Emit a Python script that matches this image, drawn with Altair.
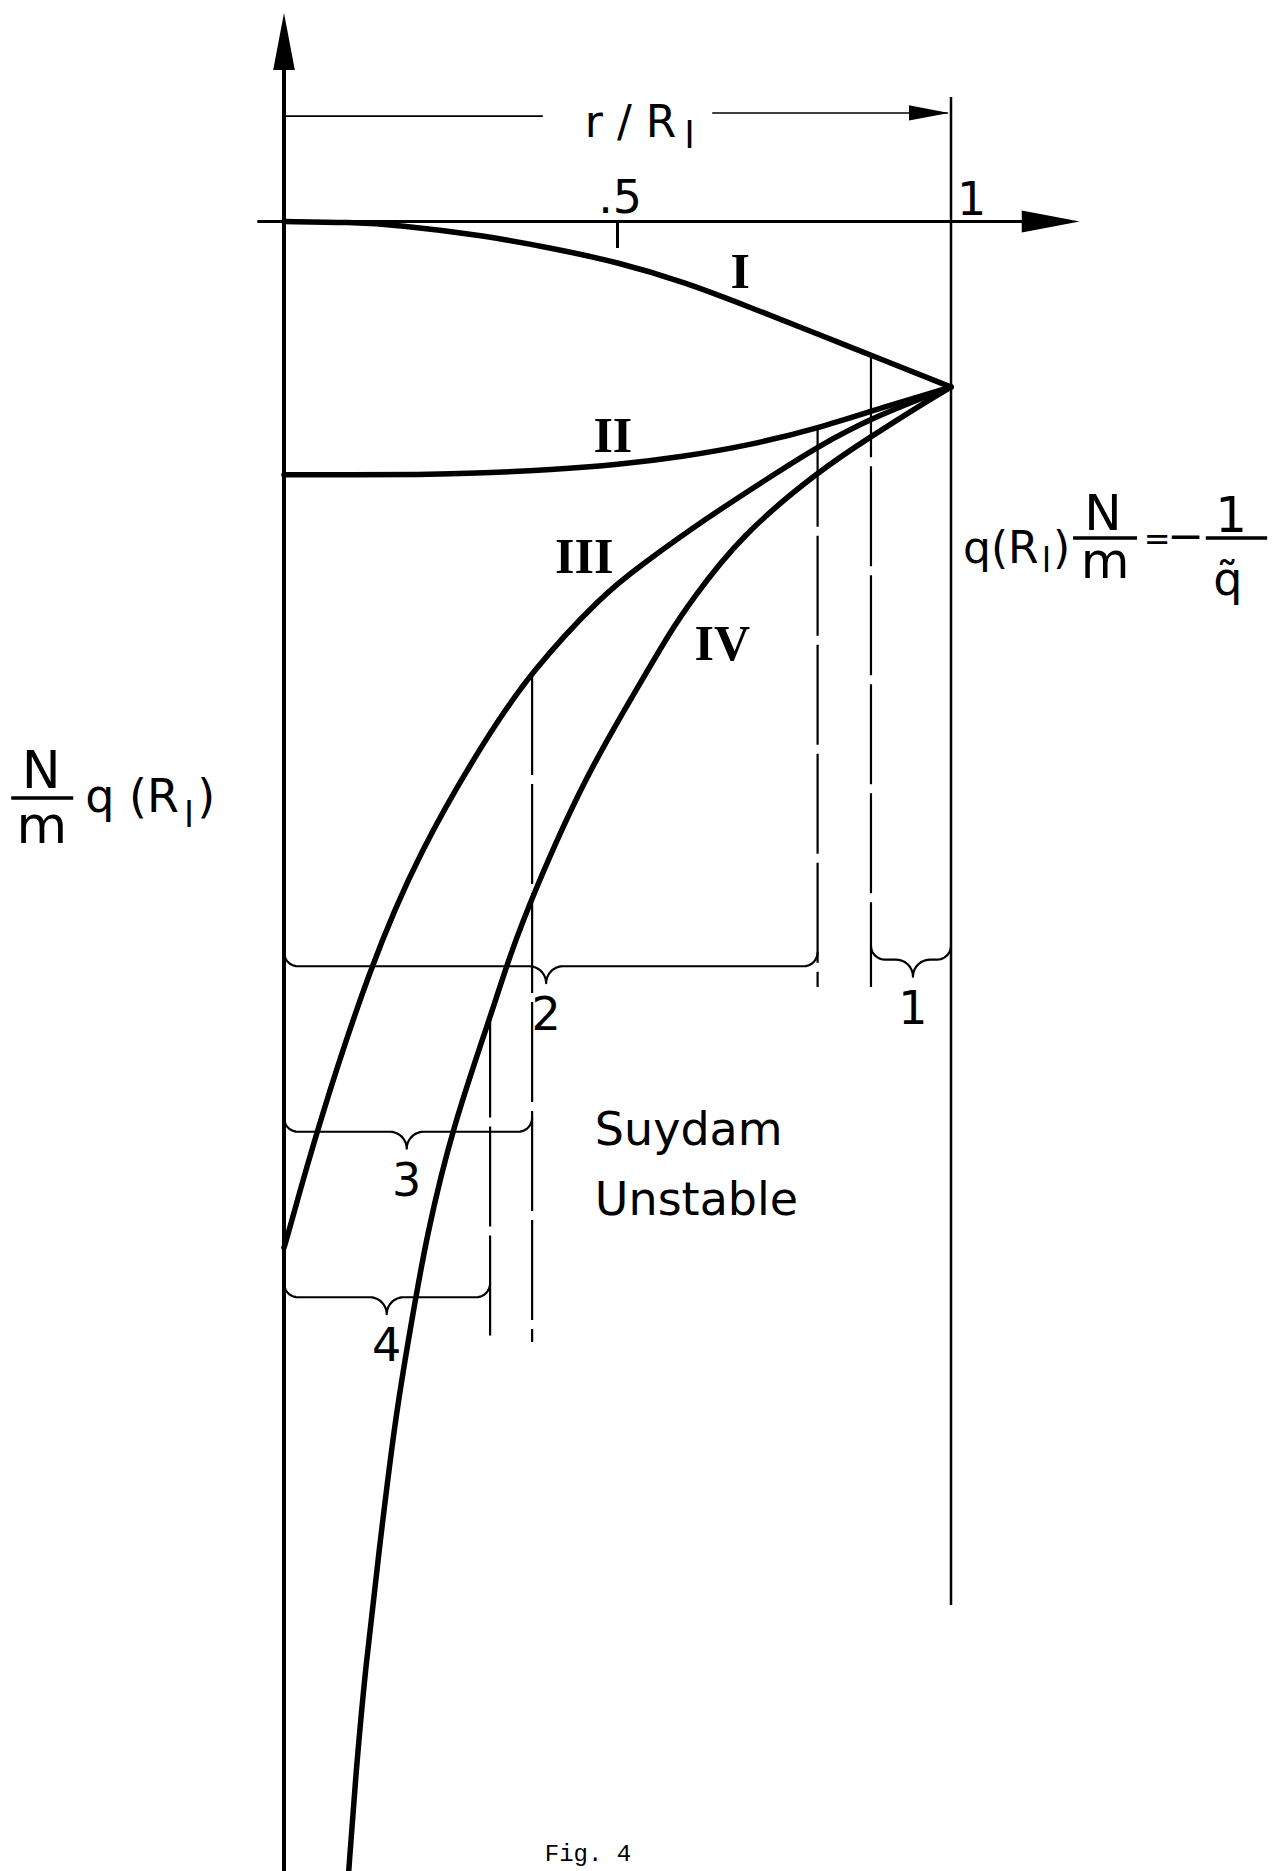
import numpy as np
import pandas as pd
import altair as alt

# ---------------------------------------------------------------
# Page geometry: the view fills the whole page, data units are
# placed through linear scales whose origin sits inside the view.
# ---------------------------------------------------------------
W, H = 1279, 1871
X0_PX, X_UNIT = 284.0, 667.0      # pixel of r/R_l = 0, pixels per unit
Y0_PX, Y_UNIT = 221.5, 165.5      # pixel of (N/m) q(R_l) = 0, pixels per unit
X_DOMAIN = [-X0_PX / X_UNIT, (W - X0_PX) / X_UNIT]
Y_DOMAIN = [-Y0_PX / Y_UNIT, (H - Y0_PX) / Y_UNIT]

xs = alt.Scale(domain=X_DOMAIN, nice=False, zero=False)
ys = alt.Scale(domain=Y_DOMAIN, nice=False, zero=False, reverse=True)

# ---------------------------------------------------------------
# Curves I - IV :  (N/m) q(R_l)  versus  r/R_l
# ---------------------------------------------------------------
r_I = [0.0, 0.10, 0.17, 0.30, 0.40, 0.50, 0.60, 0.70, 0.80, 0.90, 1.0]
v_I = [0.0, 0.005, 0.02, 0.085, 0.16, 0.245, 0.365, 0.52, 0.68, 0.84, 1.0]

r_II = [0.0, 0.10, 0.20, 0.30, 0.40, 0.50, 0.60, 0.70, 0.80, 0.90, 1.0]
v_II = [1.53, 1.53, 1.53, 1.52, 1.50, 1.47, 1.42, 1.35, 1.25, 1.12, 1.0]

r_III = [0.0, 0.004, 0.049, 0.129, 0.204, 0.298, 0.37, 0.479, 0.534,
         0.634, 0.734, 0.80, 0.884, 1.0]
v_III = [6.20, 6.15, 5.49, 4.50, 3.80, 3.15, 2.72, 2.25, 2.08,
         1.79, 1.53, 1.36, 1.18, 1.0]

r_IV = [0.097, 0.107, 0.122, 0.142, 0.167, 0.189, 0.214, 0.253, 0.309,
        0.339, 0.373, 0.448, 0.534, 0.579, 0.609, 0.684, 0.804, 0.88,
        0.958, 1.0]
v_IV = [9.97, 9.41, 8.74, 8.05, 7.22, 6.70, 6.12, 5.47, 4.81,
        4.43, 4.07, 3.38, 2.79, 2.48, 2.30, 1.90, 1.50, 1.30,
        1.10, 1.0]

curve_names = ["I", "II", "III", "IV"]
curve_r = [r_I, r_II, r_III, r_IV]
curve_v = [v_I, v_II, v_III, v_IV]

# Roman curve labels
roman_x = [0.684, 0.493, 0.450, 0.657]
roman_y = [0.402, 1.393, 2.124, 2.650]

# Vertical marker lines (dashed) from a curve down to the brace level
mark_r = [0.309, 0.372, 0.800, 0.880]
mark_top = [4.81, 2.74, 1.24, 0.82]
mark_bottom = [6.77, 6.77, 4.625, 4.625]

# Braces marking the unstable intervals 1 - 4
brace_name = ["1", "2", "3", "4"]
brace_left = [0.880, 0.0, 0.0, 0.0]
brace_right = [1.0, 0.800, 0.372, 0.309]
brace_level = [4.46, 4.50, 5.50, 6.50]
brace_tip = [0.943, 0.393, 0.184, 0.154]

# y axis tick values
y_ticks = [0, 1, 2, 3, 4, 5, 6, 7, 8]


def ex(field):
    return alt.X(field, type="quantitative", scale=xs, axis=None)


def ey(field, axis=None):
    return alt.Y(field, type="quantitative", scale=ys, axis=axis)


y_axis = alt.Axis(
    values=y_ticks, offset=-X0_PX, domain=False, grid=False,
    tickSize=27, tickWidth=3, tickColor="black",
    labelFont="DejaVu Sans", labelFontSize=46, labelColor="black",
    labelPadding=7, labelFlush=False, labelOverlap=False, title=None,
)

curve_df = pd.concat(
    [pd.DataFrame({"r": r, "v": v, "curve": n})
     for n, r, v in zip(curve_names, curve_r, curve_v)],
    ignore_index=True,
)
curves = alt.Chart(curve_df).mark_line(
    color="black", strokeWidth=5.5, interpolate="basis",
    strokeCap="round", strokeJoin="round",
).encode(x=ex("r"), y=ey("v", y_axis), detail="curve:N", order="r:Q")


def rules(rows, width, dash=None):
    df = pd.DataFrame(rows, columns=["x", "x2", "y", "y2"])
    kw = dict(color="black", strokeWidth=width)
    if dash is not None:
        kw["strokeDash"] = dash
    return alt.Chart(df).mark_rule(**kw).encode(
        x=ex("x"), x2="x2", y=ey("y"), y2="y2")


# axes, the r/R_l = 1 boundary and the .5 tick
y_axis_line = rules([[0, 0, -0.915, Y_DOMAIN[1]]], 4)
x_axis_line = rules([[-0.040, 1.118, 0, 0]], 3)
edge_line = rules([[1.0, 1.0, -0.752, 8.36]], 2.5)
half_tick = rules([[0.5, 0.5, 0, 0.16]], 3)

# dimension line for r/R_l
dim_lines = rules([[0.0, 0.388, -0.637, -0.637],
                   [0.642, 0.995, -0.656, -0.656]], 1.6)

# fraction bars
frac_bars = rules([[-0.409, -0.316, 3.483, 3.483],
                   [1.183, 1.279, 1.912, 1.912],
                   [1.382, 1.474, 1.912, 1.912]], 3.5)

dashed = rules([[r, r, t, b] for r, t, b in zip(mark_r, mark_top, mark_bottom)],
               2.2, dash=[100, 9])


def brace_points(left, right, level, tip, r_end=14.0, r_tip=17.0):
    """Underbrace outline: curled ends, straight runs, pointed middle."""
    ax, ay = 1.0 / X_UNIT, 1.0 / Y_UNIT
    parts = []

    def arc(cx, cy, rad, t0, t1):
        t = np.linspace(t0, t1, 12)
        return np.column_stack([cx + rad * np.cos(t) * ax, cy + rad * np.sin(t) * ay])

    parts.append(arc(left + r_end * ax, level - r_end * ay, r_end, np.pi, np.pi / 2))
    parts.append(arc(tip - r_tip * ax, level + r_tip * ay, r_tip, -np.pi / 2, 0))
    parts.append(arc(tip + r_tip * ax, level + r_tip * ay, r_tip, np.pi, 1.5 * np.pi))
    parts.append(arc(right - r_end * ax, level - r_end * ay, r_end, np.pi / 2, 0))
    return np.vstack(parts)


brace_rows = []
for n, a, b, lv, tp in zip(brace_name, brace_left, brace_right, brace_level, brace_tip):
    for i, (px, py) in enumerate(brace_points(a, b, lv, tp)):
        brace_rows.append({"brace": n, "i": i, "x": px, "y": py})
brace_df = pd.DataFrame(brace_rows)
braces = alt.Chart(brace_df).mark_line(
    color="black", strokeWidth=2.2, strokeJoin="round").encode(
    x=ex("x"), y=ey("y"), detail="brace:N", order="i:Q")

brace_labels = alt.Chart(pd.DataFrame({"x": brace_tip, "y": brace_level, "t": brace_name})).mark_text(
    font="DejaVu Sans", fontSize=46, align="center", baseline="alphabetic", dy=64, color="black"
).encode(x=ex("x"), y=ey("y"), text="t:N")


# arrowheads (custom symbols, tip at the data point)
def arrow(x, y, path, length):
    return alt.Chart(pd.DataFrame({"x": [x], "y": [y]})).mark_point(
        shape=path, size=(2 * length) ** 2, filled=True, opacity=1,
        color="black", strokeWidth=0,
    ).encode(x=ex("x"), y=ey("y"))


up_head = arrow(0.0, -1.26, "M0,0L-0.19,1L0.19,1Z", 57)
right_head = arrow(1.193, 0.0, "M0,0L-1,-0.19L-1,0.19Z", 58)
dim_head = arrow(0.997, -0.656, "M0,0L-1,-0.19L-1,0.19Z", 40)


def text(xs_, ys_, ts, size, font="DejaVu Sans", align="center", weight="normal"):
    df = pd.DataFrame({"x": xs_, "y": ys_, "t": ts})
    return alt.Chart(df).mark_text(
        font=font, fontSize=size, align=align, baseline="alphabetic",
        fontWeight=weight, color="black",
    ).encode(x=ex("x"), y=ey("y"), text="t:N")


roman = text(roman_x, roman_y, curve_names, 50, font="Liberation Serif", weight="bold")

region = text([0.466, 0.466], [5.58, 6.003], ["Suydam", "Unstable"], 46, align="left")

x_half = text([0.504], [-0.051], [".5"], 46)
x_one = text([1.009], [-0.039], ["1"], 46, align="left")

# axis title  N/m q(R_l)
ytitle_frac = text([-0.364, -0.363], [3.423, 3.755], ["N", "m"], 52)
ytitle_main = text([-0.298, -0.130], [3.568, 3.568], ["q (R", ")"], 46, align="left")
ytitle_sub = text([-0.150], [3.66], ["l"], 36, align="left")

# boundary condition  q(R_l) N/m = -1/q~
bc_main = text([1.018, 1.153], [2.063, 2.063], ["q(R", ")"], 44, align="left")
bc_sub = text([1.136], [2.118], ["l"], 34, align="left")
bc_frac = text([1.228, 1.231, 1.420], [1.864, 2.154, 1.876], ["N", "m", "1"], 50)
bc_eq = text([1.309], [1.985], ["="], 32)
bc_minus = text([1.352], [1.99], ["\u2212"], 44)
bc_qt = text([1.415], [2.257], ["q\u0303"], 46)

# abscissa title  r / R_l
rtitle = text([0.451], [-0.511], ["r / R"], 44, align="left")
rtitle_sub = text([0.600], [-0.444], ["l"], 38, align="left")

fig = text([0.391], [9.905], ["Fig. 4"], 24, font="Liberation Mono", align="left")

chart = alt.layer(
    curves, y_axis_line, x_axis_line, edge_line, half_tick, dim_lines,
    frac_bars, dashed, braces, brace_labels, up_head, right_head, dim_head,
    roman, region, x_half, x_one, ytitle_frac, ytitle_main, ytitle_sub,
    bc_main, bc_sub, bc_frac, bc_eq, bc_minus, bc_qt, rtitle, rtitle_sub, fig,
).properties(
    width=W, height=H, padding=0,
    autosize=alt.AutoSizeParams(type="none"),
    background="white",
).configure_view(stroke=None)

chart.save("out.html", embed_options={"renderer": "svg", "actions": False})
